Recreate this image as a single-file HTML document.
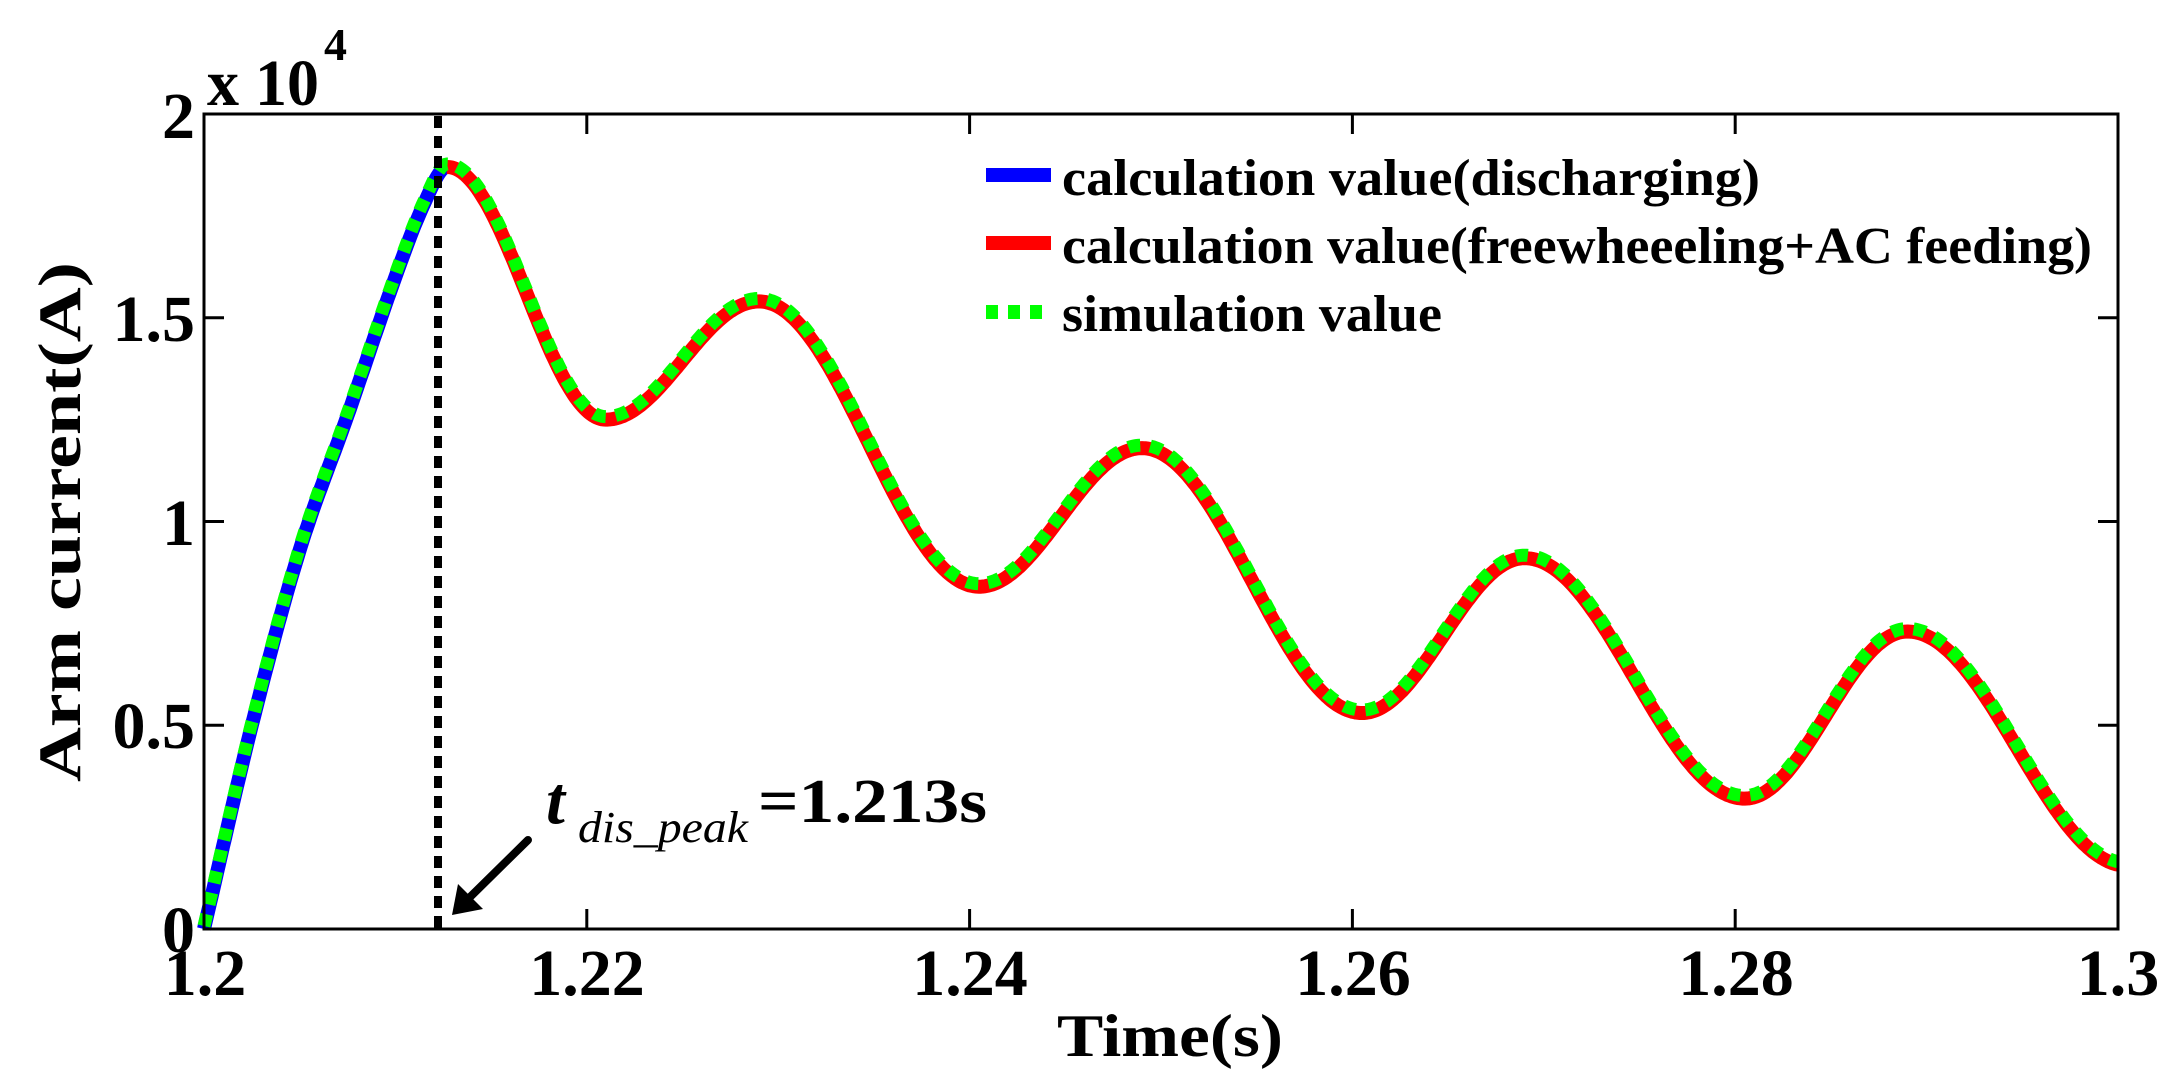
<!DOCTYPE html>
<html><head><meta charset="utf-8"><style>
html,body{margin:0;padding:0;background:#fff;width:2173px;height:1089px;overflow:hidden}
svg{display:block}
text{font-family:"Liberation Serif",serif;font-weight:bold;fill:#000}
</style></head><body>
<svg id="s" width="2173" height="1089" viewBox="0 0 2173 1089" xmlns="http://www.w3.org/2000/svg">
<rect x="0" y="0" width="2173" height="1089" fill="#fff"/>
<g id="curves"></g>
<line x1="438" y1="116" x2="438" y2="929" stroke="#000" stroke-width="8" stroke-dasharray="12,8"/>
<rect x="204" y="114" width="1914" height="815" fill="none" stroke="#000" stroke-width="3"/>
<g id="ticks" stroke="#000" stroke-width="3"></g>
<g font-size="66" text-anchor="middle">
<text x="205" y="995">1.2</text><text x="587" y="995">1.22</text><text x="970" y="995">1.24</text>
<text x="1353" y="995">1.26</text><text x="1736" y="995">1.28</text><text x="2118" y="995">1.3</text>
</g>
<g font-size="66" text-anchor="end">
<text x="195" y="952">0</text><text x="195" y="748">0.5</text><text x="195" y="545">1</text>
<text x="195" y="341">1.5</text><text x="195" y="138">2</text>
</g>
<text x="207" y="105" font-size="66" textLength="112" lengthAdjust="spacingAndGlyphs">x 10</text>
<text x="324" y="60" font-size="46">4</text>
<text x="1170" y="1056" font-size="60" text-anchor="middle" textLength="226" lengthAdjust="spacingAndGlyphs">Time(s)</text>
<text transform="translate(80,522) rotate(-90)" font-size="60" text-anchor="middle" textLength="520" lengthAdjust="spacingAndGlyphs">Arm current(A)</text>
<line x1="986" y1="175" x2="1051" y2="175" stroke="#0000ff" stroke-width="14"/>
<line x1="986" y1="243" x2="1051" y2="243" stroke="#ff0000" stroke-width="14"/>
<line x1="986" y1="312" x2="1051" y2="312" stroke="#00ff00" stroke-width="14" stroke-dasharray="12,10"/>
<g font-size="52">
<text x="1062" y="195" textLength="698" lengthAdjust="spacingAndGlyphs">calculation value(discharging)</text>
<text x="1062" y="263" textLength="1030" lengthAdjust="spacingAndGlyphs">calculation value(freewheeeling+AC feeding)</text>
<text x="1062" y="331" textLength="380" lengthAdjust="spacingAndGlyphs">simulation value</text>
</g>
<text x="546" y="823" font-size="68" font-style="italic">t</text>
<text x="578" y="842" font-size="44" font-style="italic" style="font-weight:normal" textLength="170" lengthAdjust="spacingAndGlyphs">dis_peak</text>
<text x="758" y="822" font-size="62" textLength="229" lengthAdjust="spacingAndGlyphs">=1.213s</text>
<line x1="528" y1="840" x2="465" y2="902" stroke="#000" stroke-width="8" stroke-linecap="round"/>
<polygon points="452,915 458,884 483,909" fill="#000"/>
</svg>
<script>
var X=function(t){return 204+(t-1.2)*19140;},Y=function(v){return 929-v*0.04075;};
var ticks=document.getElementById('ticks'),h='';
for(var i=0;i<=5;i++){var x=204+i*382.8;h+='<line x1="'+x+'" y1="929" x2="'+x+'" y2="909"/><line x1="'+x+'" y1="114" x2="'+x+'" y2="134"/>';}
for(var j=0;j<=4;j++){var y=929-j*203.75;h+='<line x1="204" y1="'+y+'" x2="224" y2="'+y+'"/><line x1="2118" y1="'+y+'" x2="2098" y2="'+y+'"/>';}
ticks.innerHTML=h;
var rise=[[1.2,0],[1.2025,5000],[1.205,9300],[1.2075,12600],[1.21,16000],[1.2115,17800],[1.2127,18700]];
var ext=[[1.2127,18700],[1.221,12500],[1.229,15400],[1.2405,8400],[1.249,11800],[1.2605,5300],[1.269,9100],[1.2805,3200],[1.289,7300],[1.3005,1550]];
function riseVal(t){for(var i=0;i<rise.length-1;i++){var a=rise[i],b=rise[i+1];if(t<=b[0]){
 var p0=rise[Math.max(i-1,0)],p3=rise[Math.min(i+2,rise.length-1)];var u=(t-a[0])/(b[0]-a[0]);
 var m1=(b[1]-p0[1])/(b[0]-p0[0])*(b[0]-a[0]),m2=(p3[1]-a[1])/(p3[0]-a[0])*(b[0]-a[0]);
 if(i==rise.length-2)m2=0;
 var u2=u*u,u3=u2*u;return (2*u3-3*u2+1)*a[1]+(u3-2*u2+u)*m1+(-2*u3+3*u2)*b[1]+(u3-u2)*m2;}}return 18700;}
function fallVal(t){for(var i=0;i<ext.length-1;i++){var a=ext[i],b=ext[i+1];if(t<=b[0]){var u=(t-a[0])/(b[0]-a[0]);var w=(1-Math.cos(Math.PI*u))/2;return a[1]+(b[1]-a[1])*w;}}return 1550;}
function f(t){return t<1.2127?riseVal(t):fallVal(t);}
function path(t0,t1,dt){var d='';for(var t=t0;t<=t1+1e-9;t+=dt){d+=(d?'L':'M')+X(t).toFixed(1)+','+Y(f(t)).toFixed(1);}return d;}
var g=document.getElementById('curves');
g.innerHTML='<path d="'+path(1.2,1.2127,0.0001)+'" fill="none" stroke="#0000ff" stroke-width="14" stroke-linejoin="round"/>'+
'<path d="'+path(1.2127,1.3,0.0001)+'" fill="none" stroke="#ff0000" stroke-width="14" stroke-linejoin="round"/>'+
'<path d="'+path(1.2,1.3,0.0001).replace(/([ML])([\d.]+),([\d.]+)/g,function(m,c,a,b){return c+a+','+(parseFloat(b)-3).toFixed(1);})+'" fill="none" stroke="#00ff00" stroke-width="13" stroke-dasharray="12,10"/>';
</script>
</body></html>
